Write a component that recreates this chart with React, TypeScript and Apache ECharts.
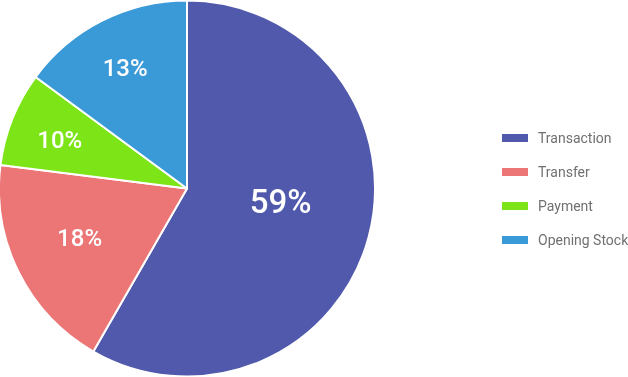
import React, { useEffect, useRef } from "react";
import * as echarts from "echarts";

const categories = ["Transaction", "Transfer", "Payment", "Opening Stock"];
const values = [58.3, 18.7, 8.1, 14.9];
const percentLabels = ["59%", "18%", "10%", "13%"];
const colors = ["#5059ab", "#ec7576", "#7ce417", "#3a99d7"];

export default function App() {
  const ref = useRef<HTMLDivElement>(null);
  useEffect(() => {
    if (!ref.current) return;
    const chart = echarts.init(ref.current, undefined, { renderer: "svg" });
    const center = [187, 188.5];
    const R = 188;
    const labelBase = {
      position: "inside",
      color: "#ffffff",
      fontFamily: "Roboto",
      fontWeight: 500,
      fontSize: 24,
      formatter: (p: any) => percentLabels[p.dataIndex],
    };
    const mainData = categories.map((c, i) => ({
      name: c,
      value: values[i],
      itemStyle: { color: colors[i] },
    }));
    const overlay = (inner: number, showIdx: number[], fontSize: number, offset: number[] = [0, 0]) => ({
      type: "pie",
      center,
      radius: [inner, R],
      silent: true,
      startAngle: 90,
      clockwise: true,
      avoidLabelOverlap: false,
      labelLine: { show: false },
      itemStyle: { color: "rgba(0,0,0,0)", borderWidth: 0 },
      emphasis: { disabled: true },
      data: categories.map((c, i) => ({
        name: c,
        value: values[i],
        label: { show: showIdx.includes(i) },
      })),
      label: { ...labelBase, fontSize, offset },
    });
    chart.setOption({
      animation: false,
      legend: {
        orient: "vertical",
        left: 500,
        top: 130,
        padding: 0,
        itemWidth: 28,
        itemHeight: 10,
        itemGap: 18,
        icon: "rect",
        data: categories,
        textStyle: {
          color: "#707070",
          fontFamily: "Roboto",
          fontSize: 14,
          lineHeight: 16,
          padding: [0, 0, 0, 4],
        },
      },
      series: [
        {
          type: "pie",
          center,
          radius: [0, R],
          startAngle: 90,
          clockwise: true,
          avoidLabelOverlap: false,
          labelLine: { show: false },
          itemStyle: { borderColor: "#ffffff", borderWidth: 2 },
          label: { show: false },
          emphasis: { disabled: true },
          data: mainData,
        },
        overlay(0, [0], 33, [0, -12]),
        overlay(46, [1], 24, [0, -4]),
        overlay(80, [2, 3], 24, [0, 2]),
      ],
    });
    return () => chart.dispose();
  }, []);
  return (
    <div
      ref={ref}
      style={{ position: "fixed", left: 0, top: 0, width: 628, height: 377 }}
    />
  );
}
